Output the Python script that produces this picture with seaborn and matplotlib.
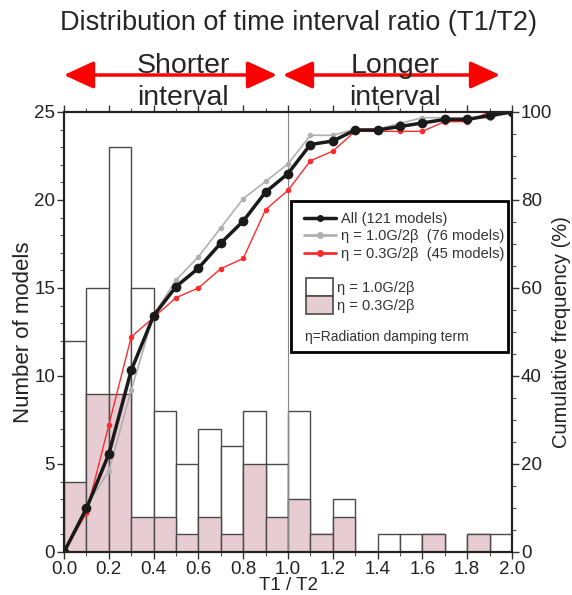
import numpy as np
import pandas as pd
import seaborn as sns
import matplotlib.pyplot as plt
from matplotlib.patches import Rectangle, Patch
from matplotlib.lines import Line2D
from matplotlib.ticker import MultipleLocator

# histogram bins (T1/T2), width 0.1
bin_left = [0.0, 0.1, 0.2, 0.3, 0.4, 0.5, 0.6, 0.7, 0.8, 0.9,
            1.0, 1.1, 1.2, 1.3, 1.4, 1.5, 1.6, 1.7, 1.8, 1.9]
# bar top = all models, pink part = eta 0.3 models
count_all = [12, 15, 23, 15, 8, 5, 7, 6, 8, 5, 8, 1, 3, 0, 1, 1, 1, 0, 1, 1]
count_eta03 = [4, 9, 9, 2, 2, 1, 2, 1, 5, 2, 3, 1, 2, 0, 0, 0, 1, 0, 1, 0]

# cumulative frequency (%) at bin edges
edges = [0.0, 0.1, 0.2, 0.3, 0.4, 0.5, 0.6, 0.7, 0.8, 0.9, 1.0,
         1.1, 1.2, 1.3, 1.4, 1.5, 1.6, 1.7, 1.8, 1.9, 2.0]
cum_all = [0, 9.9, 22.3, 41.3, 53.7, 60.3, 64.5, 70.2, 75.2, 81.8, 86.0,
           92.6, 93.4, 95.9, 95.9, 96.7, 97.5, 98.3, 98.3, 99.2, 100]
cum_eta10 = [0, 10.5, 18.4, 36.8, 53.9, 61.8, 67.1, 73.7, 80.3, 84.2, 88.2,
             94.7, 94.7, 96.1, 96.1, 97.4, 98.7, 98.7, 98.7, 98.7, 100]
cum_eta03 = [0, 8.9, 28.9, 48.9, 53.3, 57.8, 60.0, 64.4, 66.7, 77.8, 82.2,
             88.9, 91.1, 95.6, 95.6, 95.6, 95.6, 97.8, 97.8, 100, 100]

PINK = '#e8ccd4'
EDGE = '#4a4a4a'

sns.set_style("ticks")
plt.rcParams['font.family'] = ['Liberation Sans', 'DejaVu Sans']

fig = plt.figure(figsize=(5.72, 5.95), dpi=100)
ax = fig.add_axes([0.112, 0.0723, 0.783, 0.7395])

hist_df = pd.DataFrame({'x': [b + 0.05 for b in bin_left],
                        'all': count_all, 'eta03': count_eta03})
sns.histplot(data=hist_df, x='x', weights='all', binwidth=0.1, binrange=(0, 2.0), ax=ax,
             color='white', edgecolor=EDGE, linewidth=1.0, alpha=1)
sns.histplot(data=hist_df, x='x', weights='eta03', binwidth=0.1, binrange=(0, 2.0), ax=ax,
             color=PINK, edgecolor=EDGE, linewidth=1.0, alpha=1)
ax.axvline(1.0, color='#888888', lw=0.8, zorder=5)

ax.set_xlim(0, 2.0)
ax.set_ylim(0, 25)
ax.xaxis.set_major_locator(MultipleLocator(0.2))
ax.xaxis.set_minor_locator(MultipleLocator(0.1))
ax.yaxis.set_major_locator(MultipleLocator(5))
ax.yaxis.set_minor_locator(MultipleLocator(1))
ax.xaxis.set_major_formatter(lambda v, p: f"{v:.1f}")
ax.tick_params(axis='both', which='major', labelsize=13.5, length=5, width=1, pad=1.5,
               colors='#333333', labelcolor='#222222')
ax.tick_params(axis='both', which='minor', length=3, width=0.8, colors='#555555')
ax.tick_params(top=True, which='both', direction='out')
ax.set_xlabel('T1 / T2', fontsize=13.5, labelpad=-1, color='#222222')
ax.set_ylabel('Number of models', fontsize=16, labelpad=0, color='#222222')
for s in ax.spines.values():
    s.set_linewidth(1.5)
    s.set_color('#222222')

# cumulative lines
ax2 = ax.twinx()
sns.lineplot(x=edges, y=cum_eta10, ax=ax2, color='#b0b0b0', lw=1.2,
             marker='o', markersize=4, markeredgewidth=0)
sns.lineplot(x=edges, y=cum_eta03, ax=ax2, color='#ff2a2a', lw=1.0,
             marker='o', markersize=4, markeredgewidth=0)
sns.lineplot(x=edges, y=cum_all, ax=ax2, color='#1a1a1a', lw=2.5,
             marker='o', markersize=7, markeredgewidth=0)
ax2.set_ylim(0, 100)
ax2.set_xlim(0, 2.0)
ax2.yaxis.set_major_locator(MultipleLocator(20))
ax2.yaxis.set_minor_locator(MultipleLocator(5))
ax2.tick_params(axis='y', which='major', labelsize=13.5, length=5, width=1, pad=1.5,
                colors='#333333', labelcolor='#222222')
ax2.tick_params(axis='y', which='minor', length=3, width=0.8, colors='#555555')
ax2.set_ylabel('Cumulative frequency (%)', fontsize=14.5, labelpad=0, color='#222222')
for s in ax2.spines.values():
    s.set_linewidth(1.5)
    s.set_color('#222222')

# legend: frame + two legends + note
ax2.add_patch(Rectangle((0.507, 0.455), 0.484, 0.343, transform=ax2.transAxes,
                        facecolor='white', edgecolor='black', lw=2, zorder=10))
line_handles = [
    Line2D([], [], color='#1a1a1a', lw=2.5, marker='o', markersize=4),
    Line2D([], [], color='#b0b0b0', lw=2.0, marker='o', markersize=4),
    Line2D([], [], color='#ff2a2a', lw=2.0, marker='o', markersize=4),
]
line_labels = ['All (121 models)', 'η = 1.0G/2β  (76 models)', 'η = 0.3G/2β  (45 models)']
leg1 = ax2.legend(line_handles, line_labels, loc='upper left', bbox_to_anchor=(0.51, 0.80),
                  frameon=False, fontsize=10.5, handlelength=2.2, handletextpad=0.3,
                  labelspacing=0.25, borderpad=0.3, labelcolor='#333333')
leg1.set_zorder(11)
ax2.add_artist(leg1)
patch_handles = [Patch(facecolor='white', edgecolor=EDGE, lw=1.2),
                 Patch(facecolor=PINK, edgecolor=EDGE, lw=1.2)]
leg2 = ax2.legend(patch_handles, ['η = 1.0G/2β', 'η = 0.3G/2β'], loc='upper left',
                  bbox_to_anchor=(0.515, 0.65), frameon=False, fontsize=10.5,
                  handlelength=1.8, handleheight=1.55, handletextpad=0.3,
                  labelspacing=0.0, borderpad=0.3, labelcolor='#333333')
leg2.set_zorder(11)
ax2.text(0.537, 0.48, 'η=Radiation damping term', transform=ax2.transAxes,
         fontsize=10, color='#333333', zorder=12)

# title and interval arrows
fig.text(0.522, 0.962, 'Distribution of time interval ratio (T1/T2)', ha='center', va='center',
         fontsize=19.5)
arrow_kw = dict(arrowstyle='<|-|>,head_length=1.3,head_width=0.6', color='#ff0000',
                lw=2.5, mutation_scale=14, shrinkA=0, shrinkB=0)
fig.add_artist(plt.Annotation('', xy=(277 / 572, 1 - 75 / 595), xytext=(64 / 572, 1 - 75 / 595),
                              xycoords='figure fraction', textcoords='figure fraction',
                              arrowprops=arrow_kw))
fig.add_artist(plt.Annotation('', xy=(500 / 572, 1 - 75 / 595), xytext=(283 / 572, 1 - 75 / 595),
                              xycoords='figure fraction', textcoords='figure fraction',
                              arrowprops=arrow_kw))
fig.text(183 / 572, 1 - 66 / 595, 'Shorter', ha='center', va='center', fontsize=20.5)
fig.text(183 / 572, 1 - 98 / 595, 'interval', ha='center', va='center', fontsize=20.5)
fig.text(395 / 572, 1 - 66 / 595, 'Longer', ha='center', va='center', fontsize=20.5)
fig.text(395 / 572, 1 - 98 / 595, 'interval', ha='center', va='center', fontsize=20.5)

fig.savefig('out.png', dpi=100)
